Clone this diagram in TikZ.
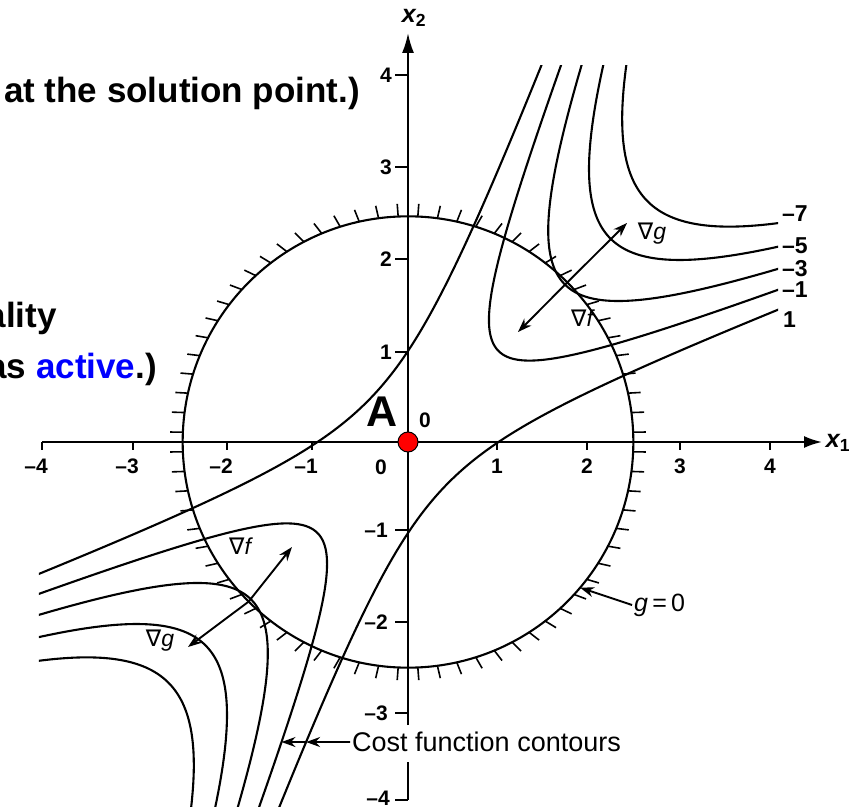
\documentclass[tikz,border=0pt]{standalone}
\usepackage{fontspec}
\setmainfont{Liberation Sans}
\newfontfamily\dejavu{DejaVu Sans}
\usetikzlibrary{arrows.meta}
\definecolor{slideblue}{RGB}{0,0,255}
\newcommand\Nab{{\dejavu ∇}}
\begin{document}
\begin{tikzpicture}[x=1pt,y=-1pt,
  hcurve/.style={line width=2.1pt, line join=round},
  axline/.style={line width=2.1pt},
  numlab/.style={font=\fontsize{21}{21}\selectfont\bfseries, inner sep=0pt},
  clab/.style={font=\fontsize{23}{23}\selectfont\bfseries, inner sep=0pt, anchor=west},
  slide/.style={font=\fontsize{35}{35}\selectfont\bfseries, inner sep=0pt, anchor=base east},
  grad/.style={line width=1.9pt, -{Stealth[length=14pt,width=10pt]}},
  glab/.style={font=\fontsize{23}{23}\selectfont, inner sep=0pt},
  tickst/.style={line width=1.6pt}
]
\useasboundingbox (0,0) rectangle (862,810);
\fill[white] (0,0) rectangle (862,810);

% slide text
\node[slide] (t1) at (360,103) {at the solution point.)};
\node[slide] (t2) at (57,327) {ality};
\node[slide] (t3) at (157,378) {as \textcolor{slideblue}{active}.)};

% math part
\begin{scope}[shift={(408,442)}, x=90.5pt, y=91pt]
  \begin{scope}
    \clip (-4.08,-4.0) rectangle (4.09,4.14);
    \foreach \a in {1,3,5,7}{
      \foreach \s in {1,-1}{
        \draw[hcurve] plot[domain=-2.8:2.8, samples=300, variable=\t]
          ({\s*sqrt(\a)*cosh(\t) - sqrt(0.2*\a)*sinh(\t)},
           {\s*sqrt(\a)*cosh(\t) + sqrt(0.2*\a)*sinh(\t)});
      }
    }
    \foreach \s in {1,-1}{
      \draw[hcurve] plot[domain=-2.8:2.8, samples=300, variable=\t]
        ({sinh(\t) - \s*sqrt(0.2)*cosh(\t)},
         {sinh(\t) + \s*sqrt(0.2)*cosh(\t)});
    }
  \end{scope}
  % constraint circle g = 0
  \draw[hcurve] (0,0) ellipse [x radius=2.49, y radius=2.48];
  \foreach \a in {2.5,7.5,...,357.5}{
    \pgfmathsetmacro\d{\a-22*sin(2*\a)}
    \draw[tickst] ({2.49*cos(\a)},{2.48*sin(\a)}) -- ++({0.14*cos(\d)},{0.14*sin(\d)});
  }
  \coordinate (C1) at ({2.49*cos(45)},{2.48*sin(45)});
  \coordinate (C2) at ({2.49*cos(225)},{2.48*sin(225)});
  \coordinate (Gc) at ({2.49*cos(-40.2)},{2.48*sin(-40.2)});
  \coordinate (K1) at (-1.126,-3.297);
  \coordinate (K2) at (-1.398,-3.297);
\end{scope}

% axes
\draw[axline, -{Latex[length=18pt,width=12pt]}] (42,442) -- (822,442);
\draw[axline] (408,800) -- (408,762);
\draw[axline, -{Latex[length=20pt,width=12pt]}] (408,725) -- (408,33);
\foreach \yy in {75,167,259,352,530,622,713,800} \draw[axline] (395,\yy) -- (408,\yy);
\foreach \xx in {42,133,227,312,497,587,680,770} \draw[axline] (\xx,442) -- (\xx,450);

\node[font=\fontsize{25}{25}\selectfont\bfseries\itshape, inner sep=0pt] (x1lab) at (838,443) {x\textsubscript{\upshape 1}};
\node[font=\fontsize{25}{25}\selectfont\bfseries\itshape, inner sep=0pt] (x2lab) at (414,18) {x\textsubscript{\upshape 2}};

% x tick labels
\node[numlab, anchor=north] (xm4) at (42,459) {\llap{–}4};
\node[numlab, anchor=north] (xm3) at (133,459) {\llap{–}3};
\node[numlab, anchor=north] (xm2) at (227,459) {\llap{–}2};
\node[numlab, anchor=north] (xm1) at (312,459) {\llap{–}1};
\node[numlab] (x0) at (381,467) {0};
\node[numlab, anchor=north] (xp1) at (497,459) {1};
\node[numlab, anchor=north] (xp2) at (587,459) {2};
\node[numlab, anchor=north] (xp3) at (680,459) {3};
\node[numlab, anchor=north] (xp4) at (770,459) {4};
% y tick labels
\node[numlab, anchor=east] (y4) at (392,75) {4};
\node[numlab, anchor=east] (y3) at (392,167) {3};
\node[numlab, anchor=east] (y2) at (392,259) {2};
\node[numlab, anchor=east] (y1) at (392,352) {1};
\node[numlab, anchor=east] (ym1) at (388,530) {–1};
\node[numlab, anchor=east] (ym2) at (388,622) {–2};
\node[numlab, anchor=east] (ym3) at (388,713) {–3};
\node[numlab, anchor=east] (ym4) at (390,798) {–4};

% contour labels
\node[clab] (l7) at (782,214) {–7};
\node[clab] (l5) at (782,246) {–5};
\node[clab] (l3) at (782,269) {–3};
\node[clab] (l1) at (782,290) {–1};
\node[clab] (lp1) at (783,320) {1};

% gradients
\coordinate (G1) at (627,223);
\coordinate (F1) at (518,332);
\coordinate (F2) at (292,547);
\coordinate (G2) at (188,647);
\draw[grad] (C1) -- (G1);
\draw[grad] (C1) -- (F1);
\draw[grad] (C2) -- (F2);
\draw[grad] (C2) -- (G2);
\node[glab] (ng1) at (652,234) {\Nab\textit{g}};
\node[glab] (nf1) at (583,318) {\Nab\textit{f}};
\node[glab] (nf2) at (241,546) {\Nab\textit{f}};
\node[glab] (ng2) at (160,641) {\Nab\textit{g}};

% g = 0
\node[font=\fontsize{25}{25}\selectfont, anchor=west, inner sep=2pt] (g0) at (632,605) {\textit{g}\,=\,0};
\draw[grad] (g0.west) -- (Gc);

% cost function contours
\node[font=\fontsize{27}{27}\selectfont, anchor=west, inner sep=2pt] (cost) at (350,742) {Cost function contours};
\draw[grad] (cost.west) -- (K1);
\draw[grad] (K1) -- (K2);

% point A
\node[circle, fill=red, draw=black, line width=1pt, minimum size=20pt, inner sep=0pt] (A0) at (408,442) {};
\node[font=\fontsize{43}{43}\selectfont\bfseries, inner sep=0pt] (Alab) at (382,412) {A};
\node[numlab] (o0) at (425,420) {0};
\end{tikzpicture}
\end{document}
